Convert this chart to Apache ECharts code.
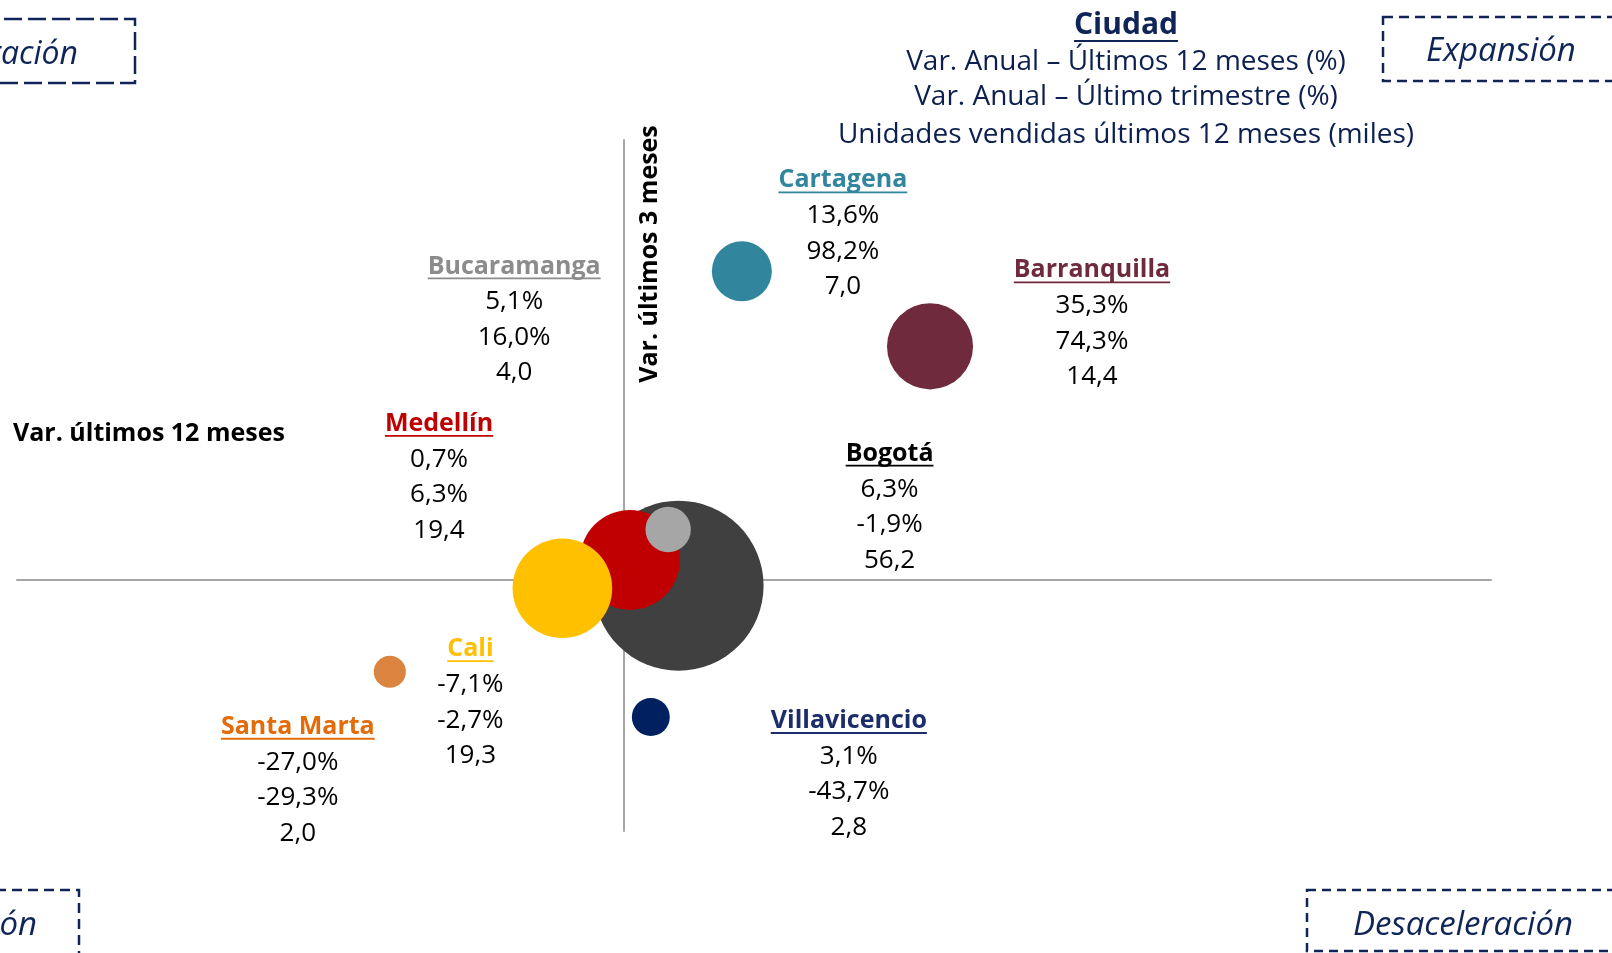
<!DOCTYPE html>
<html><head><meta charset="utf-8">
<script src="https://cdn.jsdelivr.net/npm/echarts@6/dist/echarts.min.js"></script>
<style>html,body{margin:0;padding:0;background:#fff}#c{width:1612px;height:953px}</style>
</head><body><div id="c"></div>
<script>
// ---------------- DATA ----------------
const cities    = ['Bogotá', 'Medellín', 'Cali', 'Bucaramanga', 'Villavicencio', 'Santa Marta', 'Cartagena', 'Barranquilla'];
const var12m    = [6.3, 0.7, -7.1, 5.1, 3.1, -27.0, 13.6, 35.3];     // Var. anual últimos 12 meses (%)
const var3m     = [-1.9, 6.3, -2.7, 16.0, -43.7, -29.3, 98.2, 74.3]; // Var. anual último trimestre (%)
const units12m  = [56.2, 19.4, 19.3, 4.0, 2.8, 2.0, 7.0, 14.4];      // Unidades vendidas (miles)
const titleMain = 'Ciudad';
const titleLines = ['Var. Anual – Últimos 12 meses (%)', 'Var. Anual – Último trimestre (%)', 'Unidades vendidas últimos 12 meses (miles)'];
const xAxisTitle = 'Var. últimos 12 meses';
const yAxisTitle = 'Var. últimos 3 meses';
const quadrantNames = ['Recuperación', 'Expansión', 'Contracción', 'Desaceleración'];

// ---------------- STYLE / LAYOUT ----------------
const bubbleColors = ['#404040', '#C00000', '#FFC000', '#A6A6A6', '#002060', '#DA8440', '#31859C', '#6F2B3D'];
const labelColors  = ['#000000', '#C00000', '#FFC000', '#8C8C8C', '#1B2E6B', '#E36C0A', '#31859C', '#6F2B3D'];
const labelOffsets = [[211, -132], [-191, -136], [-92, 61], [-154, -263], [198, 4], [-92, 55], [101, -91], [162, -76]];
const FONT = '"Open Sans", "Noto Sans", sans-serif';
const NAVY = '#0F2557';

function fmt(v, pct) { return v.toFixed(1).replace('.', ',') + (pct ? '%' : ''); }

const chart = echarts.init(document.getElementById('c'), null, { renderer: 'canvas' });

const option = {
  animation: false,
  backgroundColor: '#ffffff',
  grid: { left: 17, top: 140, width: 1474, height: 691 },
  xAxis: {
    type: 'value', min: -70, max: 100,
    axisLine: { show: true, onZero: true, lineStyle: { color: '#A6A6A6', width: 2 } },
    axisTick: { show: false }, axisLabel: { show: false }, splitLine: { show: false }
  },
  yAxis: {
    type: 'value', min: -80, max: 140,
    axisLine: { show: true, onZero: true, lineStyle: { color: '#A6A6A6', width: 2 } },
    axisTick: { show: false }, axisLabel: { show: false }, splitLine: { show: false }
  },
  series: [{
    type: 'scatter',
    symbol: 'circle',
    symbolSize: function (val) { return 22.68 * Math.sqrt(val[2]); },
    data: cities.map((c, i) => ({
      name: c,
      value: [var12m[i], var3m[i], units12m[i]],
      itemStyle: { color: bubbleColors[i], opacity: 1 }
    })),
    emphasis: { disabled: true }
  }]
};
chart.setOption(option);

const mctx = document.createElement('canvas').getContext('2d');
function tw(text, font) { mctx.font = font; return mctx.measureText(text).width; }

function txt(text, x, y, font, fill, align, extra) {
  return Object.assign({
    type: 'text', x: x, y: y, silent: true,
    style: { text: text, font: font, fill: fill, textAlign: align || 'center', align: align || 'center', textVerticalAlign: 'middle', verticalAlign: 'middle' }
  }, extra || {});
}
function uline(x1, x2, y, color, w) {
  return { type: 'line', silent: true, shape: { x1: x1, y1: y, x2: x2, y2: y }, style: { stroke: color, lineWidth: w || 1.8 } };
}

const g = [];
// bubble labels
cities.forEach((c, i) => {
  const p = chart.convertToPixel({ gridIndex: 0 }, [var12m[i], var3m[i]]);
  const cx = p[0] + labelOffsets[i][0];
  const ny = p[1] + labelOffsets[i][1];
  const nf = 'bold 25px ' + FONT;
  g.push(txt(c, cx, ny, nf, labelColors[i]));
  const w = tw(c, nf);
  g.push(uline(cx - w / 2, cx + w / 2, ny + 12, labelColors[i], 1.8));
  const vals = [fmt(var12m[i], true), fmt(var3m[i], true), fmt(units12m[i], false)];
  vals.forEach((v, k) => g.push(txt(v, cx, ny + 35.5 * (k + 1), '26px ' + FONT, '#000000')));
});

// title block
const tf = 'bold 30px ' + FONT;
g.push(txt(titleMain, 1126, 25, tf, NAVY));
const tW = tw(titleMain, tf);
g.push(uline(1126 - tW / 2, 1126 + tW / 2, 41, NAVY, 2));
[62, 97, 135].forEach((y, k) => g.push(txt(titleLines[k], 1126, y, '28px ' + FONT, '#0C1F4F')));

// axis titles
g.push(txt(xAxisTitle, 13, 434, 'bold 25px ' + FONT, '#000000', 'left'));
g.push(txt(yAxisTitle, 650, 254, 'bold 25px ' + FONT, '#000000', 'center', { rotation: Math.PI / 2 }));

// quadrant boxes
const qf = 'italic 33px ' + FONT;
function box(x, y, w, h, dash) {
  return { type: 'rect', silent: true, shape: { x: x, y: y, width: w, height: h },
    style: { fill: 'none', stroke: NAVY, lineWidth: 2.5, lineDash: dash } };
}
g.push(box(-20, 19, 155, 64, [18, 6]));
g.push(txt(quadrantNames[0], 78, 55, 'italic 32px ' + FONT, NAVY, 'right'));
g.push(box(1383, 17, 260, 64, [10, 6]));
g.push(txt(quadrantNames[1], 1501, 52, qf, NAVY));
g.push(box(-20, 890, 99, 80, [10, 6]));
g.push(txt(quadrantNames[2], 37, 926, qf, NAVY, 'right'));
g.push(box(1307, 890, 330, 61, [9, 6]));
g.push(txt(quadrantNames[3], 1463, 926, qf, NAVY));

chart.setOption({ graphic: { elements: g } });
</script>
</body></html>
